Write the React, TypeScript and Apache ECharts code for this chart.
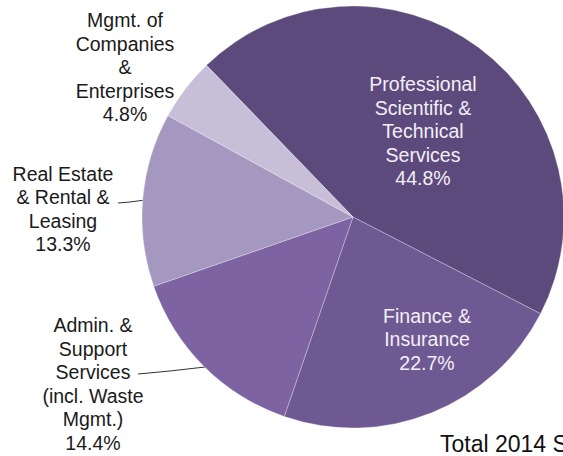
import React, { useEffect, useRef } from "react";
import * as echarts from "echarts";

const categories = [
  "Professional\nScientific &\nTechnical\nServices",
  "Finance &\nInsurance",
  "Admin. &\nSupport\nServices\n(incl. Waste\nMgmt.)",
  "Real Estate\n& Rental &\nLeasing",
  "Mgmt. of\nCompanies\n&\nEnterprises",
];
const shares = [44.8, 22.7, 14.4, 13.3, 4.8];
const colors = ["#5d4a7c", "#6f5992", "#7e63a3", "#a598c0", "#c7bed8"];
const labelColors = ["#f2eff7", "#f2eff7", "#1a1a1a", "#1a1a1a", "#1a1a1a"];
// label centre positions (layout only)
const labelPos = [
  [423, 131],
  [427, 339],
  [93, 384],
  [63, 209],
  [125, 67],
];
const leaderLines: (number[][] | null)[] = [
  null,
  null,
  [[205, 367], [170, 371], [138, 374]],
  [[145, 200], [130, 202], [118, 203]],
  null,
];
const footnote = "Total 2014 S";

export default function App() {
  const ref = useRef<HTMLDivElement>(null);
  useEffect(() => {
    if (!ref.current) return;
    const chart = echarts.init(ref.current, null, { renderer: "svg" });
    chart.setOption({
      animation: false,
      backgroundColor: "#ffffff",
      series: [
        {
          type: "pie",
          center: [353, 217],
          radius: 211,
          startAngle: 134,
          clockwise: true,
          avoidLabelOverlap: false,
          itemStyle: { borderColor: "rgba(255,255,255,0.35)", borderWidth: 0.8 },
          label: {
            show: true,
            position: "outside",
            fontFamily: "Liberation Sans, Arial, sans-serif",
            fontSize: 19.5,
            lineHeight: 23.5,
            align: "center",
            formatter: (p: any) => `${p.name}\n${p.value.toFixed(1)}%`,
          },
          labelLine: { show: true, lineStyle: { color: "#333", width: 1 }, smooth: false },
          labelLayout: (params: any) => {
            const i = params.dataIndex;
            const out: any = {
              x: labelPos[i][0],
              y: labelPos[i][1],
              align: "center",
              verticalAlign: "middle",
            };
            if (leaderLines[i]) out.labelLinePoints = leaderLines[i];
            return out;
          },
          data: categories.map((name, i) => ({
            name,
            value: shares[i],
            itemStyle: { color: colors[i] },
            label: { color: labelColors[i] },
            labelLine: { show: leaderLines[i] !== null },
          })),
        },
      ],
      graphic: [
        {
          type: "text",
          left: 440,
          top: 432,
          style: {
            text: footnote,
            fontFamily: "Liberation Sans, Arial, sans-serif",
            fontSize: 23,
            fill: "#111",
          },
        },
      ],
    });
    return () => chart.dispose();
  }, []);
  return (
    <div
      ref={ref}
      style={{ position: "fixed", left: 0, top: 0, width: 563, height: 456 }}
    />
  );
}
